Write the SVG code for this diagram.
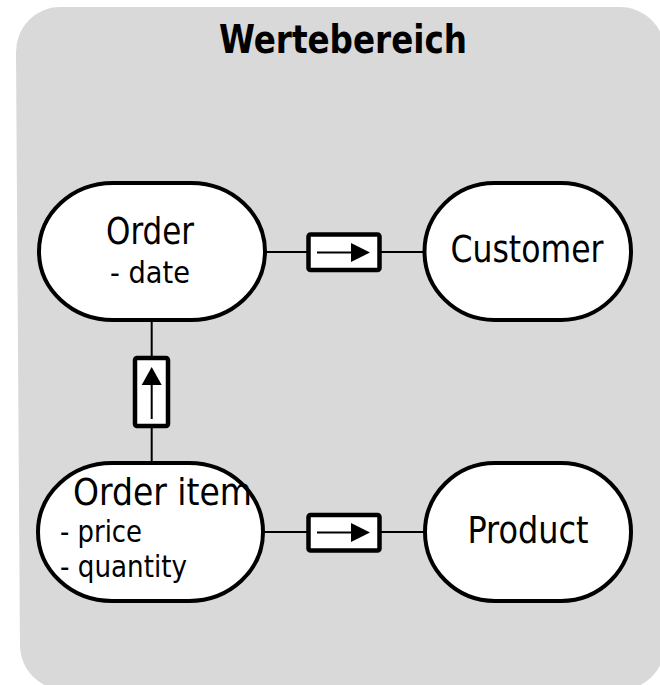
<svg xmlns="http://www.w3.org/2000/svg" width="660" height="685" viewBox="0 0 660 685">
  <defs>
    <style>
      .bg { fill: #d9d9d9; stroke: none; }
      .node { fill: #ffffff; stroke: #000000; stroke-width: 4; }
      .lbl { font-family: "DejaVu Sans Condensed", "DejaVu Sans", sans-serif; font-stretch: condensed; fill: #000000; }
      .big { font-size: 38px; }
      .small { font-size: 31px; }
      .title { font-size: 39px; font-weight: bold; }
      .line { stroke: #000000; stroke-width: 2; fill: none; }
      .box { fill: #ffffff; stroke: #000000; stroke-width: 4.5; }
      .shaft { stroke: #000000; stroke-width: 2; fill: none; }
      .head { fill: #000000; stroke: none; }
    </style>
  </defs>
  <path class="bg" d="M 60 7 L 620 7 A 45 45 0 0 1 665 52 L 665 690 L 20 690 L 20 652 L 16 52 A 44 45 0 0 1 60 7 Z"/>
  <path d="M 20 600 L 20 645 A 45 45 0 0 0 65 690 L 20 690 Z" fill="#ffffff"/>
  <path d="M 665 640 L 665 690 L 620 690 A 45 45 0 0 0 665 645 Z" fill="#ffffff"/>
  <text class="lbl title" x="343" y="53" text-anchor="middle" textLength="248" lengthAdjust="spacingAndGlyphs">Wertebereich</text>

  <g id="connectors">
    <line class="line" x1="265" y1="252" x2="425" y2="252"/>
    <rect class="box" x="308.5" y="234.5" width="71" height="35.5" rx="2"/>
    <line class="shaft" x1="317" y1="252.5" x2="355" y2="252.5"/>
    <polygon class="head" points="351,243 370,252.5 351,262"/>

    <line class="line" x1="263" y1="532" x2="425" y2="532"/>
    <rect class="box" x="308.5" y="515" width="71" height="35.5" rx="2"/>
    <line class="shaft" x1="317" y1="532.5" x2="355" y2="532.5"/>
    <polygon class="head" points="351,523 370,532.5 351,542"/>

    <line class="line" x1="151.7" y1="320" x2="151.7" y2="463"/>
    <rect class="box" x="135" y="358" width="33" height="68" rx="2"/>
    <line class="shaft" x1="151.7" y1="419" x2="151.7" y2="380"/>
    <polygon class="head" points="141.7,385 151.7,367 161.7,385"/>
  </g>

  <g id="order">
    <rect class="node" x="39" y="183" width="226" height="137" rx="74" ry="68.5"/>
    <text class="lbl big" x="150" y="244" text-anchor="middle" textLength="88" lengthAdjust="spacingAndGlyphs">Order</text>
    <text class="lbl small" x="150" y="283" text-anchor="middle" textLength="80" lengthAdjust="spacingAndGlyphs">- date</text>
  </g>

  <g id="customer">
    <rect class="node" x="424.5" y="183" width="206.5" height="137" rx="70" ry="68.5"/>
    <text class="lbl big" x="527" y="262" text-anchor="middle" textLength="153" lengthAdjust="spacingAndGlyphs">Customer</text>
  </g>

  <g id="order-item">
    <rect class="node" x="38" y="463" width="225" height="138" rx="74" ry="69"/>
    <text class="lbl big" x="73" y="505" textLength="179" lengthAdjust="spacingAndGlyphs">Order item</text>
    <text class="lbl small" x="60" y="542" textLength="82" lengthAdjust="spacingAndGlyphs">- price</text>
    <text class="lbl small" x="60" y="577" textLength="127" lengthAdjust="spacingAndGlyphs">- quantity</text>
  </g>

  <g id="product">
    <rect class="node" x="425" y="463" width="206" height="138" rx="70" ry="69"/>
    <text class="lbl big" x="528" y="543" text-anchor="middle" textLength="121" lengthAdjust="spacingAndGlyphs">Product</text>
  </g>
</svg>
